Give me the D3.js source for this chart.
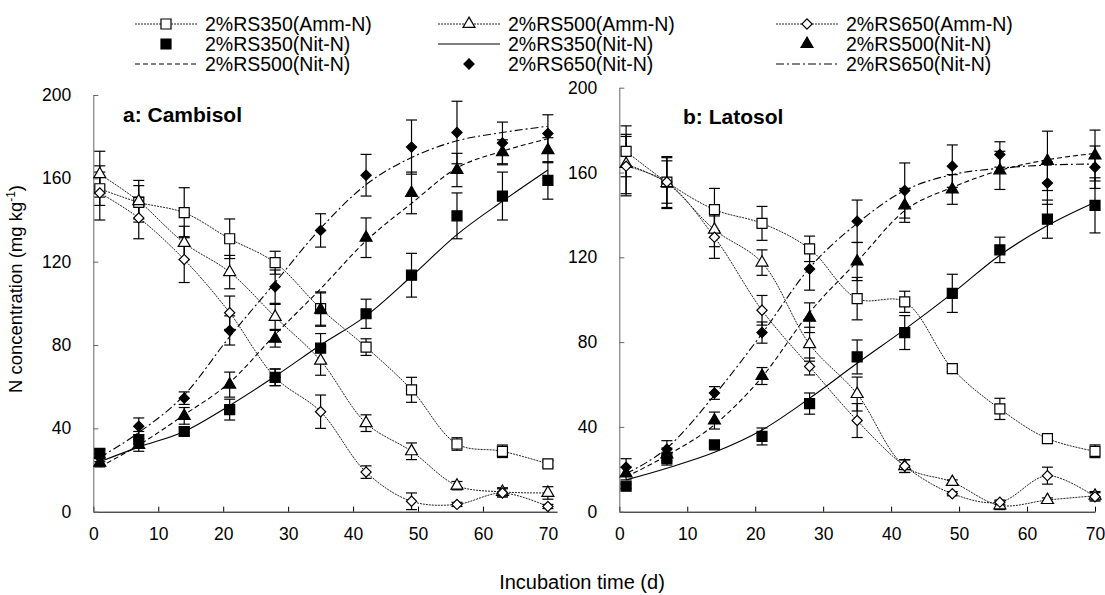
<!DOCTYPE html>
<html>
<head>
<meta charset="utf-8">
<script src="https://cdn.jsdelivr.net/npm/d3@7"></script>
<style>
  body { margin: 0; background: #fff; }
  text { font-family: "Liberation Sans", Arial, sans-serif; }
</style>
</head>
<body>
<div id="chart"></div>
<script>
var w = 1105;
var h = 595;

var days = [1, 7, 14, 21, 28, 35, 42, 49, 56, 63, 70];
var yTicks = [0, 40, 80, 120, 160, 200];
var xTicks = [0, 10, 20, 30, 40, 50, 60, 70];

// a: Cambisol
var aAmm350 = [155, 148.5, 143.5, 131, 119.5, 97.5, 79, 58.5, 32.5, 29, 23];
var aAmm350Err = [8, 8, 12, 9.5, 5.5, 8, 4, 6, 3, 3, 1.5];
var aAmm500 = [162, 149, 129, 115, 93.5, 72.5, 42.5, 29, 12.5, 9.5, 9];
var aAmm500Err = [11, 10, 8, 8, 6, 7, 4, 4, 2, 2, 3];
var aAmm650 = [153, 141, 121, 95.5, 64.5, 48, 19, 5, 3.5, 9, 2.5];
var aAmm650Err = [13, 10, 11, 8, 4, 8, 3, 4, 1, 2, 1];
var aNit350 = [28, 34.5, 38.5, 49, 64.5, 78.5, 95, 113.5, 142, 151.5, 159];
var aNit350Err = [2, 4, 2, 5, 4, 7, 7, 10.5, 11, 11.5, 9];
var aNit500 = [23.5, 32, 46, 61, 83, 97, 131.5, 153, 164, 172.5, 173.5];
var aNit500Err = [2, 3, 4, 6, 4, 8, 9.5, 10, 8, 6, 6];
var aNit650 = [26, 41, 54.5, 87, 108, 135, 161.5, 175, 182, 177, 181.5];
var aNit650Err = [2, 4, 3, 7, 8, 8, 10, 13, 15, 10, 9];
var aFit350 = [24, 31, 38.5, 51, 65, 80, 94, 113, 133, 149, 164];
var aFit500 = [21.5, 32, 46.5, 62, 85, 107, 130, 148, 165, 173, 179];
var aFit650 = [26, 38, 56, 84, 110, 136, 157, 170, 178, 182, 185];

// b: Latosol
var bAmm350 = [170, 155.5, 142.5, 136, 124, 100.5, 99, 67.5, 48.5, 34.5, 28.5];
var bAmm350Err = [12, 12, 10, 8, 6, 10, 5, 1.5, 5, 1, 3];
var bAmm500 = [164, 155, 133, 117.5, 79, 55.5, 21.5, 14, 3, 5.5, 7.5];
var bAmm500Err = [14, 12, 8, 6, 8, 8, 3, 1, 2, 1, 2];
var bAmm650 = [163, 155.5, 129.5, 95, 68.5, 43, 21.5, 8.5, 4.5, 17, 7];
var bAmm650Err = [14, 10, 10, 7, 4, 8, 3, 1, 1, 4, 2];
var bNit350 = [12, 25, 31.5, 35.5, 51, 73, 84.5, 103, 123.5, 138, 144.5];
var bNit350Err = [1, 3, 1, 4, 5, 8, 8, 9, 6, 9, 13];
var bNit500 = [18, 27, 43, 64, 91.5, 118, 144.5, 152, 161, 165.5, 168];
var bNit500Err = [3, 3, 4, 4, 7, 9, 8, 7, 9, 14, 12];
var bNit650 = [21, 29.5, 56, 84.5, 114.5, 137, 151.5, 163, 168.5, 155, 162.5];
var bNit650Err = [4, 4, 3, 5, 10, 10, 13, 10, 6, 10, 10];
var bFit350 = [15, 20.5, 28, 38.5, 53.5, 70, 86, 103, 121, 135, 146];
var bFit500 = [16.5, 26.5, 41, 63.5, 94, 118, 142, 153, 161, 166, 169];
var bFit650 = [18, 30, 55, 84, 115, 136, 151.5, 159, 162, 163.5, 164];

var legendItems = [
  {label: "2%RS350(Amm-N)", line: "amm", sym: "square", fill: "#fff"},
  {label: "2%RS500(Amm-N)", line: "amm", sym: "triangle", fill: "#fff"},
  {label: "2%RS650(Amm-N)", line: "amm", sym: "diamond", fill: "#fff"},
  {label: "2%RS350(Nit-N)", line: null, sym: "square", fill: "#000"},
  {label: "2%RS350(Nit-N)", line: "solid", sym: null},
  {label: "2%RS500(Nit-N)", line: null, sym: "triangle", fill: "#000"},
  {label: "2%RS500(Nit-N)", line: "dashed", sym: null},
  {label: "2%RS650(Nit-N)", line: null, sym: "diamond", fill: "#000"},
  {label: "2%RS650(Nit-N)", line: "dashdot", sym: null}
];

var dashes = {amm: "2,1", solid: null, dashed: "5,3", dashdot: "8,3,2,3"};

var svg = d3.select("#chart")
  .append("svg")
  .attr("width", w)
  .attr("height", h);

function symbolPath(type) {
  if (type == "square") return d3.symbol().type(d3.symbolSquare).size(100)();
  if (type == "triangle") return d3.symbol().type(d3.symbolTriangle).size(62)();
  return d3.symbol().type(d3.symbolSquare).size(52)();
}

function drawPanel(p) {
  var x = d3.scaleLinear().domain(p.xDomain).range([p.left, p.right]);
  var y = d3.scaleLinear().domain([0, 200]).range([p.bottom, p.top]);
  var g = svg.append("g");

  g.append("g")
    .attr("transform", "translate(0," + p.bottom + ")")
    .call(d3.axisBottom(x).tickValues(xTicks).tickSizeInner(-5).tickSizeOuter(0).tickPadding(16))
    .call(function(a) {
      a.select(".domain").attr("stroke", "#000");
      a.selectAll(".tick line").attr("stroke", "#000");
      a.selectAll("text").style("font-size", "17.5px").attr("fill", "#000");
    });

  g.append("g")
    .attr("transform", "translate(" + p.left + ",0)")
    .call(d3.axisLeft(y).tickValues(yTicks).tickSizeInner(-5).tickSizeOuter(0).tickPadding(22))
    .call(function(a) {
      a.select(".domain").attr("stroke", "#666");
      a.selectAll(".tick line").attr("stroke", "#666");
      a.selectAll("text").style("font-size", "17.5px").attr("fill", "#000");
    });

  g.append("text")
    .attr("x", p.labelX)
    .attr("y", p.labelY)
    .style("font-size", "21px")
    .style("font-weight", "bold")
    .text(p.label);

  var smooth = d3.line()
    .x(function(d, i) { return x(days[i]); })
    .y(function(d) { return y(d); })
    .curve(d3.curveCatmullRom.alpha(0.5));
  var fitLine = d3.line()
    .x(function(d, i) { return x(days[i]); })
    .y(function(d) { return y(d); })
    .curve(d3.curveMonotoneX);

  // fitted Nit-N curves
  p.fits.forEach(function(f) {
    g.append("path")
      .attr("d", fitLine(f.values))
      .attr("fill", "none")
      .attr("stroke", "#000")
      .attr("stroke-width", 1.1)
      .attr("stroke-dasharray", dashes[f.line]);
  });

  // Amm-N connecting lines
  p.amm.forEach(function(s) {
    g.append("path")
      .attr("d", smooth(s.values))
      .attr("fill", "none")
      .attr("stroke", "#222")
      .attr("stroke-width", 1)
      .attr("stroke-dasharray", dashes.amm);
  });

  var all = p.amm.concat(p.nit);

  // error bars
  all.forEach(function(s) {
    var eb = g.append("g").attr("stroke", "#000").attr("stroke-width", 1.2);
    s.values.forEach(function(v, i) {
      var cx = x(days[i]), e = s.err[i];
      eb.append("line").attr("x1", cx).attr("x2", cx).attr("y1", y(v - e)).attr("y2", y(v + e));
      eb.append("line").attr("x1", cx - 5.5).attr("x2", cx + 5.5).attr("y1", y(v - e)).attr("y2", y(v - e));
      eb.append("line").attr("x1", cx - 5.5).attr("x2", cx + 5.5).attr("y1", y(v + e)).attr("y2", y(v + e));
    });
  });

  // markers (Nit-N drawn on top)
  all.forEach(function(s) {
    g.append("g").selectAll("path")
      .data(s.values)
      .enter().append("path")
      .attr("d", symbolPath(s.sym))
      .attr("transform", function(d, i) {
        return "translate(" + x(days[i]) + "," + y(d) + ")" + (s.sym == "diamond" ? " rotate(45)" : "");
      })
      .attr("fill", s.fill)
      .attr("stroke", "#000")
      .attr("stroke-width", 1.2);
  });
}

drawPanel({
  xDomain: [0, 71.4], left: 93.3, right: 557, top: 95, bottom: 511.7,
  label: "a: Cambisol", labelX: 123, labelY: 122,
  amm: [
    {values: aAmm350, err: aAmm350Err, sym: "square", fill: "#fff"},
    {values: aAmm500, err: aAmm500Err, sym: "triangle", fill: "#fff"},
    {values: aAmm650, err: aAmm650Err, sym: "diamond", fill: "#fff"}
  ],
  nit: [
    {values: aNit350, err: aNit350Err, sym: "square", fill: "#000"},
    {values: aNit500, err: aNit500Err, sym: "triangle", fill: "#000"},
    {values: aNit650, err: aNit650Err, sym: "diamond", fill: "#000"}
  ],
  fits: [
    {values: aFit350, line: "solid"},
    {values: aFit500, line: "dashed"},
    {values: aFit650, line: "dashdot"}
  ]
});

drawPanel({
  xDomain: [0, 70], left: 619.3, right: 1095, top: 87.7, bottom: 511.7,
  label: "b: Latosol", labelX: 683, labelY: 124,
  amm: [
    {values: bAmm350, err: bAmm350Err, sym: "square", fill: "#fff"},
    {values: bAmm500, err: bAmm500Err, sym: "triangle", fill: "#fff"},
    {values: bAmm650, err: bAmm650Err, sym: "diamond", fill: "#fff"}
  ],
  nit: [
    {values: bNit350, err: bNit350Err, sym: "square", fill: "#000"},
    {values: bNit500, err: bNit500Err, sym: "triangle", fill: "#000"},
    {values: bNit650, err: bNit650Err, sym: "diamond", fill: "#000"}
  ],
  fits: [
    {values: bFit350, line: "solid"},
    {values: bFit500, line: "dashed"},
    {values: bFit650, line: "dashdot"}
  ]
});

// axis titles
var yTitle = svg.append("text")
  .attr("transform", "translate(22,289) rotate(-90)")
  .attr("text-anchor", "middle")
  .style("font-size", "18.5px");
yTitle.append("tspan").text("N concentration (mg kg");
yTitle.append("tspan").attr("dy", -7).style("font-size", "12px").text("-1");
yTitle.append("tspan").attr("dy", 7).text(")");

svg.append("text")
  .attr("x", 582)
  .attr("y", 589)
  .attr("text-anchor", "middle")
  .style("font-size", "20px")
  .text("Incubation time (d)");

// legend: 3 columns
var colX = [135, 438, 776], rowY = [24, 44, 64];
var leg = svg.append("g");
legendItems.forEach(function(d, i) {
  var c = i % 3, r = Math.floor(i / 3);
  var x0 = colX[c], yy = rowY[r];
  var item = leg.append("g").attr("transform", "translate(" + x0 + "," + yy + ")");
  if (d.line) {
    item.append("line")
      .attr("x1", 0).attr("x2", 62).attr("y1", 0).attr("y2", 0)
      .attr("stroke", d.line == "amm" ? "#222" : "#000")
      .attr("stroke-width", d.line == "amm" ? 1 : 1.1)
      .attr("stroke-dasharray", dashes[d.line]);
  }
  if (d.sym) {
    item.append("path")
      .attr("d", symbolPath(d.sym))
      .attr("transform", "translate(31,0)" + (d.sym == "diamond" ? " rotate(45)" : ""))
      .attr("fill", d.fill)
      .attr("stroke", "#000")
      .attr("stroke-width", 1.2);
  }
  item.append("text")
    .attr("x", 70)
    .attr("y", 0)
    .attr("dy", "0.36em")
    .style("font-size", "19.5px")
    .text(d.label);
});
</script>
</body>
</html>
